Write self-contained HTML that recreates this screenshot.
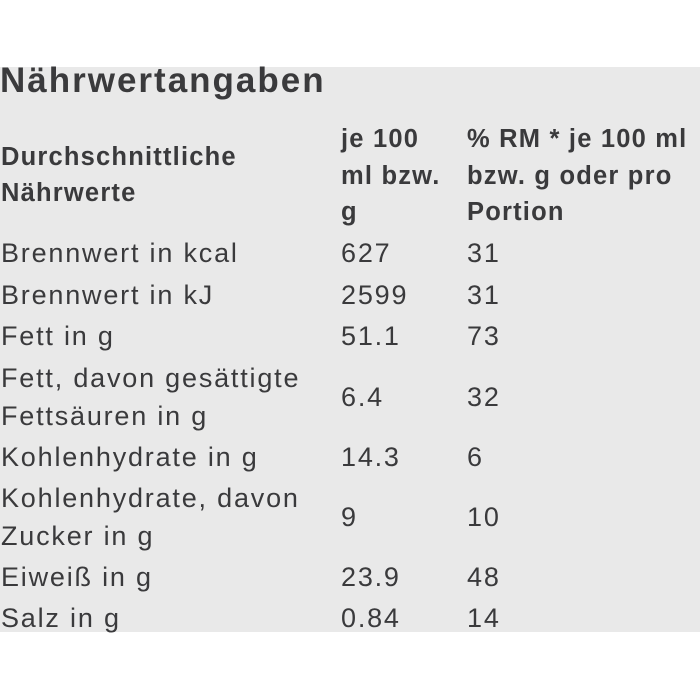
<!DOCTYPE html>
<html><head><meta charset="utf-8"><style>
body{margin:0;width:700px;height:700px;background:#fff;position:relative;overflow:hidden;font-family:"Liberation Sans",sans-serif;color:#3a3a3c}
.bg{position:absolute;left:0;top:67px;width:700px;height:565px;background:#e9e9e9}
.t{position:absolute;white-space:nowrap;font-size:27px;line-height:38px;letter-spacing:1.8px}
.b{font-weight:bold;font-size:25.5px;letter-spacing:1.2px}
h1{position:absolute;left:0;top:60px;margin:0;font-size:35px;line-height:42px;font-weight:bold;letter-spacing:2px}
</style></head><body>
<div class="bg"></div>
<h1>Nährwertangaben</h1>
<div class="t b" style="left:1px;top:138px">Durchschnittliche</div>
<div class="t b" style="left:1px;top:174px">Nährwerte</div>
<div class="t b" style="left:341px;top:120px">je 100</div>
<div class="t b" style="left:341px;top:157px">ml bzw.</div>
<div class="t b" style="left:341px;top:193px">g</div>
<div class="t b" style="left:467px;top:120px">% RM * je 100 ml</div>
<div class="t b" style="left:467px;top:157px">bzw. g oder pro</div>
<div class="t b" style="left:467px;top:193px">Portion</div>

<div class="t" style="left:1px;top:234px">Brennwert in kcal</div>
<div class="t" style="left:341px;top:234px">627</div>
<div class="t" style="left:467px;top:234px">31</div>

<div class="t" style="left:1px;top:276px">Brennwert in kJ</div>
<div class="t" style="left:341px;top:276px">2599</div>
<div class="t" style="left:467px;top:276px">31</div>

<div class="t" style="left:1px;top:317px">Fett in g</div>
<div class="t" style="left:341px;top:317px">51.1</div>
<div class="t" style="left:467px;top:317px">73</div>

<div class="t" style="left:1px;top:359px">Fett, davon gesättigte</div>
<div class="t" style="left:1px;top:397px">Fettsäuren in g</div>
<div class="t" style="left:341px;top:378px">6.4</div>
<div class="t" style="left:467px;top:378px">32</div>

<div class="t" style="left:1px;top:438px">Kohlenhydrate in g</div>
<div class="t" style="left:341px;top:438px">14.3</div>
<div class="t" style="left:467px;top:438px">6</div>

<div class="t" style="left:1px;top:479px">Kohlenhydrate, davon</div>
<div class="t" style="left:1px;top:517px">Zucker in g</div>
<div class="t" style="left:341px;top:498px">9</div>
<div class="t" style="left:467px;top:498px">10</div>

<div class="t" style="left:1px;top:558px">Eiweiß in g</div>
<div class="t" style="left:341px;top:558px">23.9</div>
<div class="t" style="left:467px;top:558px">48</div>

<div class="t" style="left:1px;top:599px">Salz in g</div>
<div class="t" style="left:341px;top:599px">0.84</div>
<div class="t" style="left:467px;top:599px">14</div>
</body></html>
